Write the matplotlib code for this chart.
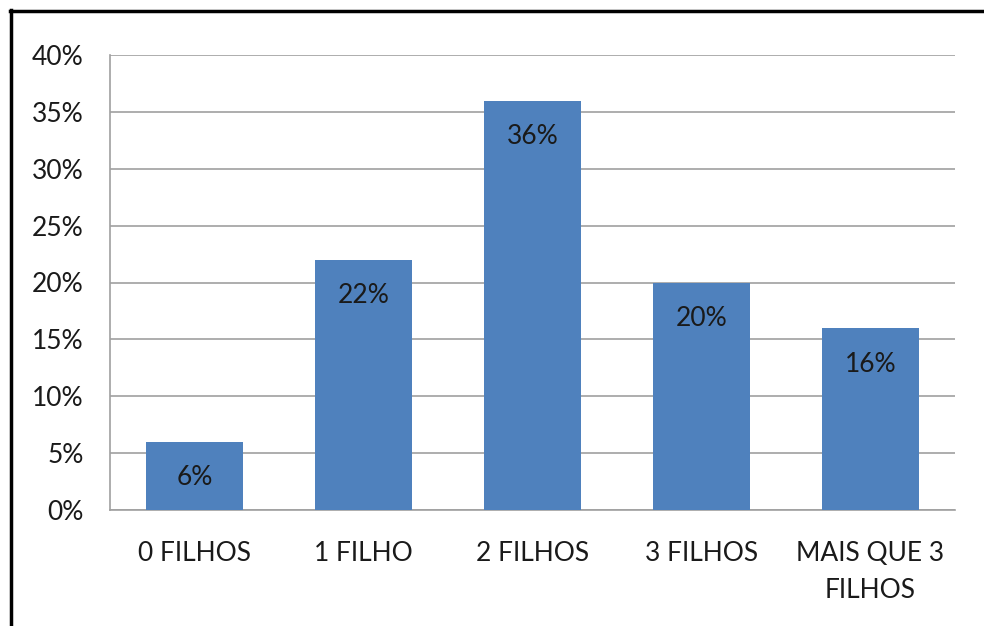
import matplotlib.pyplot as plt
from matplotlib.ticker import PercentFormatter
from matplotlib.lines import Line2D

categories = ["0 FILHOS", "1 FILHO", "2 FILHOS", "3 FILHOS", "MAIS QUE 3\nFILHOS"]
values = [6, 22, 36, 20, 16]
y_ticks = [0, 5, 10, 15, 20, 25, 30, 35, 40]

plt.rcParams["font.family"] = ["Lato", "DejaVu Sans"]

fig = plt.figure(figsize=(9.84, 6.26), dpi=100)
ax = fig.add_axes([110 / 984, 1 - 510 / 626, 845 / 984, 455 / 626])

x = range(len(categories))
bars = ax.bar(x, values, width=0.57, color="#4F81BD", zorder=3)

# value labels just inside the top of each bar
for b, v in zip(bars, values):
    ax.annotate(f"{v}%", (b.get_x() + b.get_width() / 2, v),
                xytext=(0, -36), textcoords="offset pixels",
                ha="center", va="center", fontsize=19, color="#1a1a1a", zorder=4)

ax.set_xlim(-0.5, len(categories) - 0.5)
ax.set_ylim(0, 40)
ax.set_yticks(y_ticks)
ax.yaxis.set_major_formatter(PercentFormatter(decimals=0))
ax.set_xticks(list(x))
ax.set_xticklabels(categories, linespacing=1.6)
ax.tick_params(axis="both", length=0, labelsize=19, colors="#1a1a1a")
ax.tick_params(axis="y", pad=19)
ax.tick_params(axis="x", pad=22)
ax.grid(axis="y", color="#a0a0a0", linewidth=1.2, zorder=0)

for side in ["top", "right"]:
    ax.spines[side].set_visible(False)
for side in ["left", "bottom"]:
    ax.spines[side].set_color("#a0a0a0")
    ax.spines[side].set_linewidth(1.2)

# outer frame (top and left edges visible)
fig.add_artist(Line2D([11 / 984, 11 / 984], [0, 1 - 10 / 626], transform=fig.transFigure,
                      color="black", linewidth=2.5))
fig.add_artist(Line2D([10 / 984, 1], [1 - 11 / 626, 1 - 11 / 626], transform=fig.transFigure,
                      color="black", linewidth=2.5))

fig.savefig("out.png", dpi=100)
